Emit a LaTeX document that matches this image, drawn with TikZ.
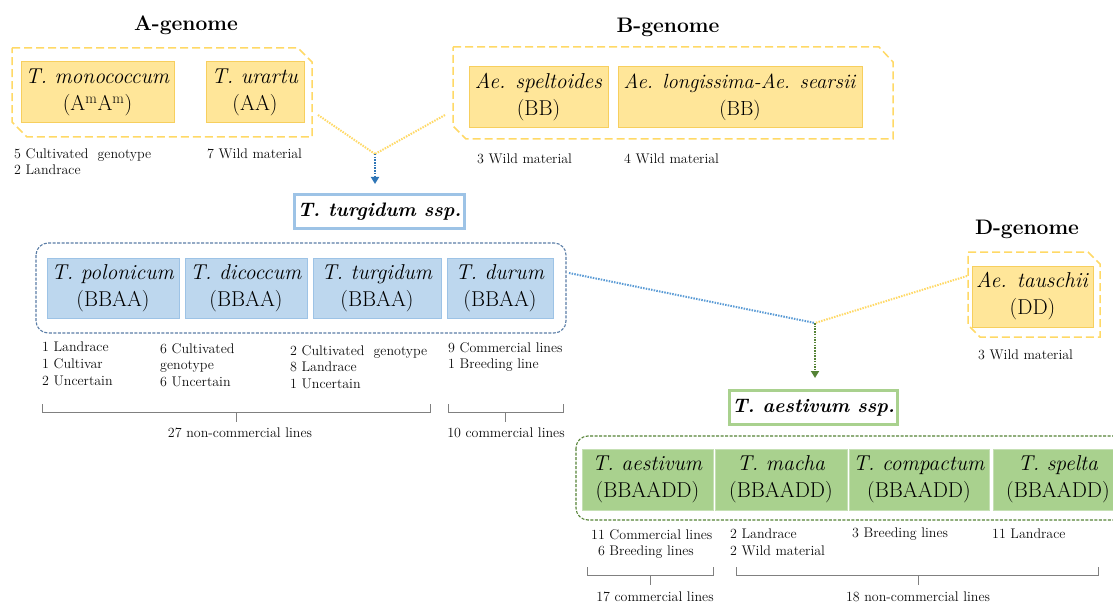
\documentclass[tikz,border=0pt]{standalone}
\usetikzlibrary{arrows.meta}
\definecolor{yfill}{HTML}{FFE699}
\definecolor{yline}{HTML}{F7CF5E}
\definecolor{ydashc}{HTML}{FFD966}
\definecolor{bfill}{HTML}{BDD7EE}
\definecolor{bline}{HTML}{9DC3E6}
\definecolor{bdashc}{HTML}{5A7DA6}
\definecolor{bdot}{HTML}{5B9BD5}
\definecolor{barrow}{HTML}{2E75B6}
\definecolor{gfill}{HTML}{A9D18E}
\definecolor{gline}{HTML}{C5E0B4}
\definecolor{gdashc}{HTML}{548235}
\definecolor{txt}{HTML}{0D0D0D}
\definecolor{bracec}{HTML}{808080}
\begin{document}
\begin{tikzpicture}[x=1pt,y=-1pt,
  genbox/.style={draw, line width=1pt, minimum height=61pt, inner sep=0pt, align=center,
    font=\fontsize{21.5}{27}\selectfont, text=black},
  ybox/.style={genbox, draw=yline, fill=yfill},
  bbox/.style={genbox, draw=bline, fill=bfill, minimum height=60pt},
  gbox/.style={genbox, draw=gline, fill=gfill},
  ttl/.style={font=\bfseries\fontsize{21}{25}\selectfont, inner sep=0pt},
  info/.style={anchor=north west, inner sep=0pt, align=left, font=\fontsize{14}{16.8}\selectfont, text=txt},
  sumtxt/.style={inner sep=0pt, font=\fontsize{14}{16.8}\selectfont, text=txt},
  hdr/.style={draw, line width=3pt, fill=white, inner sep=0pt, minimum height=34pt,
    font=\bfseries\itshape\fontsize{19.5}{24}\selectfont},
  ycont/.style={draw=ydashc, line width=1.5pt, dash pattern=on 8pt off 4pt},
  bcont/.style={draw=bdashc, line width=1.1pt, dash pattern=on 3pt off 1.5pt, rounded corners=12pt},
  gcont/.style={draw=gdashc, line width=1.1pt, dash pattern=on 3pt off 1.5pt, rounded corners=12pt},
  ydot/.style={draw=ydashc, line width=2pt, dash pattern=on 1.5pt off 1.2pt},
  bdotl/.style={draw=bdot, line width=2pt, dash pattern=on 1.5pt off 1.2pt},
  barr/.style={draw=barrow, line width=2pt, dash pattern=on 1.5pt off 1.2pt, -{Triangle[width=8pt,length=7pt]}},
  garr/.style={draw=gdashc, line width=2pt, dash pattern=on 1.5pt off 1.2pt, -{Triangle[width=8pt,length=7pt]}},
  brc/.style={draw=bracec, line width=1pt}
]
\useasboundingbox (0,0) rectangle (1113,604);

% ---------- titles ----------
\node[ttl] (tA) at (186,25) {A-genome};
\node[ttl] (tB) at (668,27) {B-genome};
\node[ttl] (tD) at (1027,229) {D-genome};

% ---------- containers ----------
\draw[ycont] (12,48) -- (298,48) -- (312,62) -- (312,137) -- (27,137) -- (12,122) -- cycle;
\draw[ycont] (453,47) -- (879,47) -- (893,62) -- (893,139) -- (466,139) -- (453,126) -- cycle;
\draw[ycont] (968,252) -- (1088,252) -- (1100,264) -- (1100,337) -- (980,337) -- (968,325) -- cycle;
\draw[bcont] (36,243) rectangle (566,333);
\draw[gcont] (576,436) rectangle (1140,520);

% ---------- yellow species ----------
\node[ybox, minimum width=153pt] (mono) at (97.5,92.5) {\textit{T. monococcum}\\(A\textsuperscript{m}A\textsuperscript{m})};
\node[ybox, minimum width=98pt] (urar) at (255,92.5) {\textit{T. urartu}\\(AA)};
\node[ybox, minimum width=139pt] (spel) at (538.5,97.5) {\textit{Ae. speltoides}\\(BB)};
\node[ybox, minimum width=244pt, font=\fontsize{20.5}{27}\selectfont] (long) at (740,97.5) {\textit{Ae. longissima-Ae. searsii}\\(BB)};
\node[ybox, minimum width=121pt] (taus) at (1032.5,296.5) {\textit{Ae. tauschii}\\(DD)};

% ---------- blue species ----------
\node[bbox, minimum width=132pt] (polo) at (113,288) {\textit{T. polonicum}\\(BBAA)};
\node[bbox, minimum width=122pt] (dico) at (246,288) {\textit{T. dicoccum}\\(BBAA)};
\node[bbox, minimum width=128pt] (turg) at (377,288) {\textit{T. turgidum}\\(BBAA)};
\node[bbox, minimum width=106pt] (duru) at (500,288) {\textit{T. durum}\\(BBAA)};

% ---------- green species ----------
\node[gbox, minimum width=131pt] (aest) at (647.5,479.5) {\textit{T. aestivum}\\(BBAADD)};
\node[gbox, minimum width=132pt] (mach) at (781,479.5) {\textit{T. macha}\\(BBAADD)};
\node[gbox, minimum width=140pt] (comp) at (919,479.5) {\textit{T. compactum}\\(BBAADD)};
\node[gbox, minimum width=130pt] (spelta) at (1058,479.5) {\textit{T. spelta}\\(BBAADD)};

% ---------- headers ----------
\node[hdr, draw=bline, minimum width=170pt] (turgssp) at (379.5,211.5) {T. turgidum ssp.};
\node[hdr, draw=gfill, minimum width=168pt] (aestssp) at (813.5,407.5) {T. aestivum ssp.};

% ---------- connectors ----------
\coordinate (aR) at (318,115);
\coordinate (bL) at (445,115);
\coordinate (jA) at (375,154);
\draw[ydot] (aR) -- (jA);
\draw[ydot] (bL) -- (jA);
\draw[barr, shorten >=9pt] (jA) -- (jA |- turgssp.north);

\coordinate (bR) at (569,273);
\coordinate (dL) at (967,276);
\coordinate (jB) at (815,323);
\draw[bdotl] (bR) -- (jB);
\draw[ydot] (dL) -- (jB);
\draw[garr, shorten >=11pt] (jB) -- (jB |- aestssp.north);

% ---------- info texts ----------
\node[info] (i1) at (14,148) {5 Cultivated\ \ genotype\\2 Landrace};
\node[info] (i2) at (207,149) {7 Wild material};
\node[info] (i3) at (477,154) {3 Wild material};
\node[info] (i4) at (624,154) {4 Wild material};
\node[info] (i5) at (978,350) {3 Wild material};

\node[info] (i6) at (42,342) {1 Landrace\\1 Cultivar\\2 Uncertain};
\node[info] (i7) at (160,343) {6 Cultivated\\genotype\\6 Uncertain};
\node[info] (i8) at (290,345) {2 Cultivated\ \ genotype\\8 Landrace\\1 Uncertain};
\node[info] (i9) at (448,342) {9 Commercial lines\\1 Breeding line};

\node[info] (i10) at (591,529) {11 Commercial lines\\\hphantom{1}6 Breeding lines};
\node[info] (i11) at (730,529) {2 Landrace\\2 Wild material};
\node[info] (i12) at (852,528) {3 Breeding lines};
\node[info] (i13) at (992,529) {11 Landrace};

% ---------- braces ----------
\coordinate (b1a) at (42,404); \coordinate (b1b) at (430,404); \coordinate (b1m) at (236,412);
\draw[brc] (b1a) -- (42,412) -- (430,412) -- (b1b);
\draw[brc] (b1m) -- (236,422);
\node[sumtxt] (s1) at (240,433) {27 non-commercial lines};

\coordinate (b2a) at (448,404); \coordinate (b2b) at (563,404); \coordinate (b2m) at (505,412);
\draw[brc] (b2a) -- (448,412) -- (563,412) -- (b2b);
\draw[brc] (b2m) -- (505,422);
\node[sumtxt] (s2) at (506,433) {10 commercial lines};

\coordinate (b3a) at (587,567); \coordinate (b3b) at (713,567); \coordinate (b3m) at (650,575);
\draw[brc] (b3a) -- (587,575) -- (713,575) -- (b3b);
\draw[brc] (b3m) -- (650,585);
\node[sumtxt] (s3) at (655,597) {17 commercial lines};

\coordinate (b4a) at (736,567); \coordinate (b4b) at (1098,567); \coordinate (b4m) at (918,575);
\draw[brc] (b4a) -- (736,575) -- (1098,575) -- (b4b);
\draw[brc] (b4m) -- (918,585);
\node[sumtxt] (s4) at (918,597) {18 non-commercial lines};
\end{tikzpicture}
\end{document}
